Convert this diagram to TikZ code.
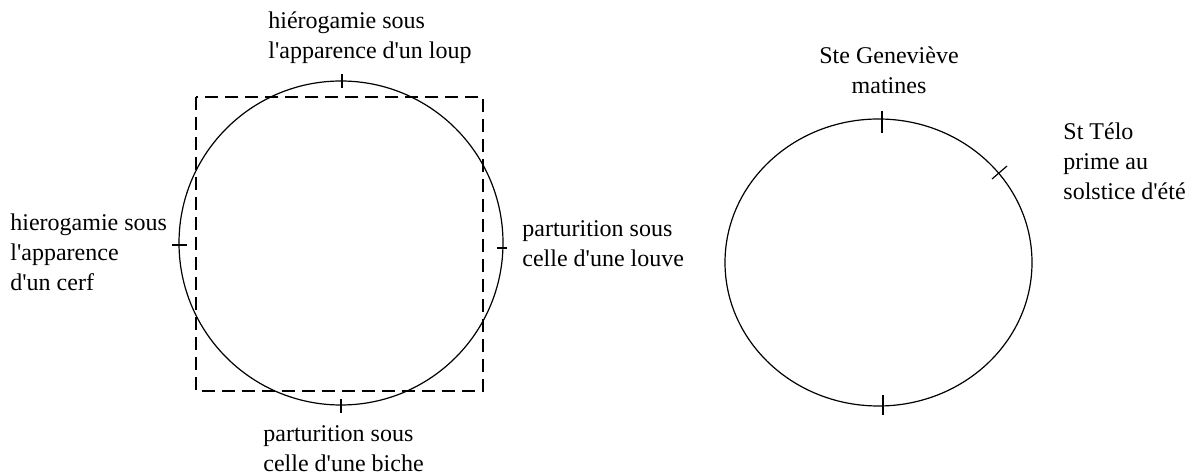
\documentclass[tikz,border=0pt]{standalone}
\usepackage{fontspec}
\setmainfont{Liberation Serif}
\usetikzlibrary{positioning}

\newcommand{\apos}{\textquotesingle}
\tikzset{
  legende/.style={align=left, inner sep=0pt, anchor=north west,
    font=\fontsize{12}{15}\selectfont},
  trait/.style={line width=0.6pt},
  cadre/.style={line width=0.6pt, dash pattern=on 6.5pt off 3.5pt},
}

\begin{document}
\begin{tikzpicture}[x=0.5pt, y=-0.5pt]
  \useasboundingbox (0,0) rectangle (1202,474);

  % premier cycle
  \draw[cadre] (196,97) rectangle (483,391);
  \draw[trait] (341,243) circle[radius=81pt];
  \draw[trait] (342,74) -- (342,88);
  \draw[trait] (172,245) -- (187,245);
  \draw[trait] (497,248) -- (507,248);
  \draw[trait] (341,399) -- (341,413);

  \node[legende] (loup) at (268,11) {hiérogamie sous\\l\apos apparence d\apos un loup};
  \node[legende] (cerf) at (10,213) {hierogamie sous\\l\apos apparence\\d\apos un cerf};
  \node[legende] (louve) at (522,220) {parturition sous\\celle d\apos une louve};
  \node[legende] (biche) at (263,425) {parturition sous\\celle d\apos une biche};

  % second cycle
  \draw[trait] (878.5,262.5) ellipse[x radius=76.75pt, y radius=71.75pt];
  \draw[trait] (882,111) -- (882,133);
  \draw[trait] (883,395) -- (883,415);
  \draw[trait] (992,179) -- (1007,166);

  \node[legende, anchor=north, align=center] (genevieve) at (889,46) {Ste Geneviève\\matines};
  \node[legende] (telo) at (1063,122) {St Télo\\prime au\\solstice d\apos été};
\end{tikzpicture}
\end{document}
